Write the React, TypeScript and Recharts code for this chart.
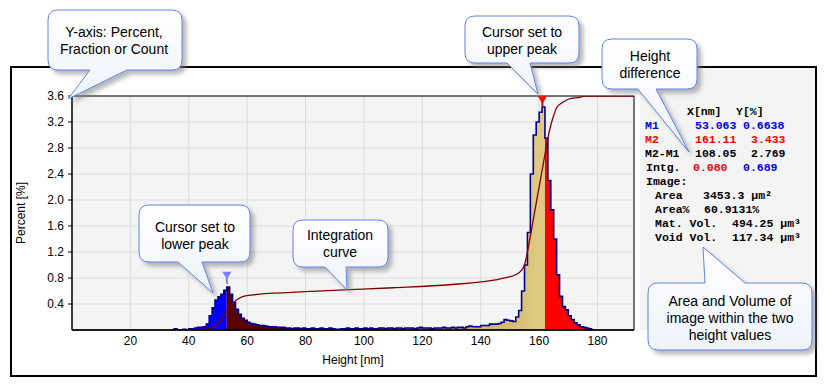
import React from 'react';
import { ComposedChart, Area, Line, XAxis, YAxis, CartesianGrid, ReferenceDot, ReferenceArea } from 'recharts';

// histogram: 1 nm bins starting at binStart, value in percent
const binStart = 34;
const percent = [
  0, 0.02, 0, 0, 0.01, 0, 0.02, 0.02, 0.03, 0.04, 0.04, 0.05, 0.09, 0.22, 0.34, 0.46,
  0.51, 0.55, 0.61, 0.66, 0.55, 0.42, 0.32, 0.24, 0.18, 0.15, 0.12, 0.1, 0.09, 0.08,
  0.07, 0.07, 0.06, 0.05, 0.05, 0.05, 0.04, 0.04, 0.04, 0.03, 0.03, 0.02, 0.03, 0.03,
  0.02, 0.03, 0.02, 0.02, 0.03, 0.02, 0.02, 0.03, 0.02, 0.02, 0.03, 0.02, 0.01, 0.01,
  0.02, 0.02, 0.03, 0.02, 0.02, 0.03, 0.02, 0.02, 0.03, 0.02, 0.03, 0.02, 0.02, 0.03,
  0.03, 0.02, 0.03, 0.03, 0.02, 0.03, 0.03, 0.02, 0.03, 0.03, 0.03, 0.02, 0.03, 0.04,
  0.03, 0.03, 0.03, 0.02, 0.03, 0.03, 0.03, 0.04, 0.03, 0.03, 0.04, 0.03, 0.04, 0.04,
  0.03, 0.05, 0.06, 0.05, 0.05, 0.05, 0.07, 0.07, 0.07, 0.09, 0.09, 0.09, 0.1, 0.12,
  0.16, 0.15, 0.14, 0.13, 0.2, 0.3, 0.6, 1.0, 1.5, 2.4, 3.0, 3.2, 3.35, 3.43, 2.95,
  2.3, 1.85, 1.4, 0.85, 0.52, 0.36, 0.31, 0.22, 0.16, 0.11, 0.08, 0.05, 0.04, 0.03,
  0.02, 0,
];

// integration curve (scaled to the axis top)
const intgX = [36, 42, 45, 47, 48, 49, 50, 51, 52, 53, 54, 55, 56, 57, 59, 62, 66, 72, 80, 95,
  110, 130, 145, 150, 152, 154, 155, 156, 157, 158, 159, 160, 161, 162, 163, 164, 165, 166, 168, 170,
  174, 176, 192.5];
const intgY = [0, 0, 0.01, 0.02, 0.035, 0.06, 0.1, 0.15, 0.22, 0.29, 0.36, 0.41, 0.45, 0.48, 0.52, 0.54, 0.56, 0.57, 0.59, 0.62,
  0.65, 0.7, 0.77, 0.82, 0.85, 0.92, 1.0, 1.2, 1.44, 1.7, 1.95, 2.2, 2.45, 2.7, 2.95, 3.15, 3.3, 3.42, 3.5, 3.55,
  3.58, 3.6, 3.6];

const cursorX = [53.063, 161.11];
const cursorY = [0.6638, 3.433];

const xTicks = [20, 40, 60, 80, 100, 120, 140, 160, 180];
const yTicks = [0.4, 0.8, 1.2, 1.6, 2.0, 2.4, 2.8, 3.2, 3.6];
const xMax = 192.5;
const yMax = 3.6;

const lowEdge = Math.round(cursorX[0]);
const highEdge = Math.ceil(cursorX[1]);

const rowMap = new Map<number, any>();
const getRow = (x: number) => {
  if (!rowMap.has(x)) rowMap.set(x, { x });
  return rowMap.get(x);
};
percent.forEach((p, i) => {
  const x = binStart + i;
  const r = getRow(x);
  r.pct = p;
  if (x <= lowEdge) r.low = p;
  if (x >= lowEdge && x <= highEdge) r.mid = p;
  if (x >= highEdge) r.high = p;
});
intgX.forEach((x, i) => {
  getRow(x).intg = intgY[i];
});
const rows = Array.from(rowMap.values()).sort((a, b) => a.x - b.x);

const sans = '"Liberation Sans", Arial, sans-serif';
const mono = '"Liberation Mono", "Courier New", monospace';

// speech bubble outline: rounded box with a pointed tail on the bottom or top edge
const bubble = (x: number, y: number, w: number, h: number, side: 'top' | 'bottom', b1: number, b2: number, tx: number, ty: number) => {
  const r = 10;
  const top = side === 'top' ? `H ${b1} L ${tx} ${ty} L ${b2} ${y} ` : '';
  const bot = side === 'bottom' ? `H ${b2} L ${tx} ${ty} L ${b1} ${y + h} ` : '';
  return `M ${x + r} ${y} ${top}H ${x + w - r} Q ${x + w} ${y} ${x + w} ${y + r} V ${y + h - r} Q ${x + w} ${y + h} ${x + w - r} ${y + h} ${bot}H ${x + r} Q ${x} ${y + h} ${x} ${y + h - r} V ${y + r} Q ${x} ${y} ${x + r} ${y} Z`;
};

const callouts = [
  { d: bubble(48, 10, 134, 60, 'bottom', 90, 127, 68, 99), lines: ['Y-axis: Percent,', 'Fraction or Count'], cx: 114, y0: 37 },
  { d: bubble(465, 16, 114, 47, 'bottom', 507, 530, 538, 94), lines: ['Cursor set to', 'upper peak'], cx: 522, y0: 37 },
  { d: bubble(602, 39, 95, 50, 'bottom', 638, 656, 689, 152), lines: ['Height', 'difference'], cx: 650, y0: 61 },
  { d: bubble(139, 205, 111, 57, 'bottom', 178, 202, 213, 293), lines: ['Cursor set to', 'lower peak'], cx: 195, y0: 232 },
  { d: bubble(293, 220, 95, 47, 'bottom', 325, 346, 347, 290), lines: ['Integration', 'curve'], cx: 340, y0: 240 },
  { d: bubble(648, 283, 164, 67, 'top', 705, 745, 703, 247), lines: ['Area and Volume of', 'image within the two', 'height values'], cx: 730, y0: 306 },
];

const M1Marker = (p: any) => (
  <g>
    <path d={`M ${p.cx - 4.5} ${p.cy - 15} L ${p.cx + 4.5} ${p.cy - 15} L ${p.cx} ${p.cy - 7} Z`} fill="#8080ff" />
    <rect x={p.cx - 1} y={p.cy - 9} width={2} height={6} fill="#8080ff" />
  </g>
);

const M2Marker = (p: any) => (
  <g>
    <path d={`M ${p.cx - 4.5} ${p.cy} L ${p.cx + 4.5} ${p.cy} L ${p.cx} ${p.cy + 8} Z`} fill="#ff0000" />
    <rect x={p.cx - 1} y={p.cy + 5} width={2} height={6} fill="#ff0000" />
  </g>
);

const panelRows: { x: number; y: number; text: string; color?: string }[] = [
  { x: 687, y: 111, text: 'X[nm]' },
  { x: 736, y: 111, text: 'Y[%]' },
  { x: 645, y: 125, text: 'M1', color: '#0000ff' },
  { x: 695, y: 125, text: '53.063', color: '#0000ff' },
  { x: 743, y: 125, text: '0.6638', color: '#0000ff' },
  { x: 645, y: 139, text: 'M2', color: '#ff0000' },
  { x: 695, y: 139, text: '161.11', color: '#ff0000' },
  { x: 751, y: 139, text: '3.433', color: '#ff0000' },
  { x: 645, y: 153, text: 'M2-M1' },
  { x: 695, y: 153, text: '108.05' },
  { x: 751, y: 153, text: '2.769' },
  { x: 646, y: 167, text: 'Intg.' },
  { x: 693, y: 167, text: '0.080', color: '#ff0000' },
  { x: 743, y: 167, text: '0.689', color: '#0000ff' },
  { x: 646, y: 181, text: 'Image:' },
  { x: 655, y: 195, text: 'Area' },
  { x: 703, y: 195, text: '3453.3 µm²' },
  { x: 655, y: 209, text: 'Area%' },
  { x: 704, y: 209, text: '60.9131%' },
  { x: 655, y: 223, text: 'Mat. Vol.' },
  { x: 732, y: 223, text: '494.25 µm³' },
  { x: 655, y: 237, text: 'Void Vol.' },
  { x: 732, y: 237, text: '117.34 µm³' },
];

export default function App() {
  return (
    <div style={{ position: 'absolute', left: 0, top: 0, width: 826, height: 387, background: '#fff', overflow: 'hidden' }}>
      <div style={{ position: 'absolute', left: 640, top: 68, width: 175, height: 262, background: '#f4f4f4' }} />
      <div style={{ position: 'absolute', left: 10, top: 66, width: 807, height: 311, border: '2px solid #000', boxSizing: 'border-box' }} />
      <div style={{ position: 'absolute', left: 0, top: 0 }}>
        <ComposedChart width={826} height={387} data={rows} margin={{ top: 96, right: 192, bottom: 27, left: 12 }}>
          <defs>
            <linearGradient id="midFill" x1="0" y1="0" x2="1" y2="0">
              <stop offset="0" stopColor="#5c0000" />
              <stop offset="0.18" stopColor="#5c0000" />
              <stop offset="0.55" stopColor="#a87c40" />
              <stop offset="0.8" stopColor="#d2b464" />
              <stop offset="1" stopColor="#e0ca84" />
            </linearGradient>
          </defs>
          <CartesianGrid fill="#f4f4f4" stroke="#dcdcdc" strokeWidth={1} />
          <XAxis
            dataKey="x"
            type="number"
            domain={[0, xMax]}
            ticks={xTicks}
            allowDataOverflow
            height={30}
            tickLine={false}
            tickSize={0}
            tickMargin={6}
            axisLine={{ stroke: '#000', strokeWidth: 1.5 }}
            tick={{ fill: '#000', fontSize: 12, fontFamily: sans }}
          />
          <YAxis
            type="number"
            domain={[0, yMax]}
            ticks={yTicks}
            allowDataOverflow
            width={60}
            tickSize={4}
            tickMargin={4}
            tickFormatter={(v: number) => v.toFixed(1)}
            axisLine={{ stroke: '#000' }}
            tickLine={{ stroke: '#000' }}
            tick={{ fill: '#000', fontSize: 12, fontFamily: sans }}
          />
          <Area dataKey="low" type="stepAfter" fill="#0000ff" fillOpacity={1} stroke="none" isAnimationActive={false} />
          <Area dataKey="mid" type="stepAfter" fill="url(#midFill)" fillOpacity={1} stroke="none" isAnimationActive={false} />
          <Area dataKey="high" type="stepAfter" fill="#ff0000" fillOpacity={1} stroke="none" isAnimationActive={false} />
          <Line dataKey="pct" type="stepAfter" stroke="#000090" strokeWidth={1.6} dot={false} isAnimationActive={false} />
          <Line dataKey="intg" type="monotone" stroke="#800000" strokeWidth={1.3} dot={false} connectNulls isAnimationActive={false} />
          <ReferenceArea x1={0} x2={xMax} y1={0} y2={yMax} fill="none" stroke="#000" strokeWidth={1} ifOverflow="visible" />
          <ReferenceDot x={cursorX[0]} y={cursorY[0]} shape={M1Marker} ifOverflow="visible" />
          <ReferenceDot x={cursorX[1]} y={yMax} shape={M2Marker} ifOverflow="visible" />
        </ComposedChart>
      </div>
      <svg width={826} height={387} style={{ position: 'absolute', left: 0, top: 0, pointerEvents: 'none' }}>
        <defs>
          <linearGradient id="bubbleFill" x1="0" y1="0" x2="0" y2="1">
            <stop offset="0" stopColor="#ffffff" />
            <stop offset="1" stopColor="#eef3fc" />
          </linearGradient>
          <filter id="bubbleShadow" x="-20%" y="-20%" width="140%" height="140%">
            <feDropShadow dx="4" dy="4" stdDeviation="2" floodColor="#808080" floodOpacity="0.55" />
          </filter>
        </defs>
        <text x={25} y={213} transform="rotate(-90 25 213)" textAnchor="middle" fontSize={12} fontFamily={sans} fill="#000">
          Percent [%]
        </text>
        <text x={353} y={364} textAnchor="middle" fontSize={12} fontFamily={sans} fill="#000">
          Height [nm]
        </text>
        {panelRows.map((r, i) => (
          <text key={i} x={r.x} y={r.y + 4} fontSize={11.5} fontWeight="bold" fontFamily={mono} fill={r.color || '#000'} style={{ whiteSpace: 'pre' }}>
            {r.text}
          </text>
        ))}
        {callouts.map((c, i) => (
          <g key={i}>
            <path d={c.d} fill="url(#bubbleFill)" stroke="#5f84e6" strokeWidth={1} filter="url(#bubbleShadow)" />
            {c.lines.map((t, j) => (
              <text key={j} x={c.cx} y={c.y0 + j * 17} textAnchor="middle" fontSize={14} fontFamily={sans} fill="#000">
                {t}
              </text>
            ))}
          </g>
        ))}
      </svg>
    </div>
  );
}
